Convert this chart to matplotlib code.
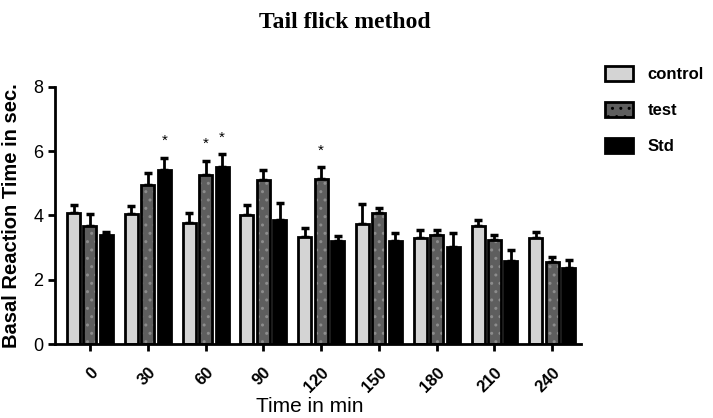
import numpy as np
import matplotlib
matplotlib.use("Agg")
import matplotlib.pyplot as plt
from matplotlib.patches import Patch

times = ["0", "30", "60", "90", "120", "150", "180", "210", "240"]
control = [4.07, 4.05, 3.76, 4.03, 3.34, 3.74, 3.30, 3.66, 3.30]
control_err = [0.27, 0.26, 0.33, 0.30, 0.26, 0.62, 0.25, 0.21, 0.20]
test = [3.66, 4.94, 5.25, 5.11, 5.14, 4.07, 3.38, 3.25, 2.56]
test_err = [0.39, 0.38, 0.45, 0.32, 0.36, 0.17, 0.16, 0.15, 0.16]
std = [3.38, 5.41, 5.50, 3.87, 3.20, 3.22, 3.01, 2.57, 2.36]
std_err = [0.12, 0.39, 0.40, 0.53, 0.17, 0.24, 0.45, 0.36, 0.24]
# (group index, series index) with significance star
stars = [(1, 2), (2, 1), (2, 2), (4, 1)]

plt.rcParams["font.family"] = ["Liberation Sans", "DejaVu Sans"]
plt.rcParams["hatch.linewidth"] = 1.0

fig = plt.figure(figsize=(7.13, 4.18), dpi=100)
ax = fig.add_axes([0.0771, 0.177, 0.738, 0.615])

x = np.arange(len(times))
step = 0.285
width = 0.225
series = [
    ("control", control, control_err, "#d4d4d4"),
    ("test", test, test_err, "#5e5e5e"),
    ("Std", std, std_err, "#000000"),
]
for i, (name, vals, errs, col) in enumerate(series):
    xs = x + (i - 1) * step
    ax.errorbar(xs, vals, yerr=[np.zeros(len(vals)), errs], fmt="none",
                ecolor="black", elinewidth=2, capsize=3, capthick=2.5, zorder=1)
    if name == "test":
        ax.bar(xs, vals, width, color=col, hatch="..", edgecolor="#8c8c8c",
               linewidth=0, zorder=2)
        ax.bar(xs, vals, width, fill=False, edgecolor="black", linewidth=2, zorder=3)
    else:
        ax.bar(xs, vals, width, color=col, edgecolor="black", linewidth=2, zorder=2)

allv = [control, test, std]
alle = [control_err, test_err, std_err]
for g, s in stars:
    ax.text(x[g] + (s - 1) * step, allv[s][g] + alle[s][g] + 0.3, "*",
            ha="center", va="bottom", fontsize=11)

ax.set_xlim(-0.606, 8.5)
ax.set_ylim(0, 8)
ax.set_yticks([0, 2, 4, 6, 8])
ax.set_xticks(x)
ax.set_xticklabels(times, rotation=45, ha="right", rotation_mode="anchor",
                   fontsize=12, fontweight="bold")
for lab in ax.get_yticklabels():
    lab.set_fontsize(13)
ax.spines["top"].set_visible(False)
ax.spines["right"].set_visible(False)
ax.spines["left"].set_linewidth(2)
ax.spines["bottom"].set_linewidth(2)
ax.tick_params(axis="both", width=2, length=5, direction="out")
ax.tick_params(axis="x", pad=10)

ax.set_ylabel("Basal Reaction Time in sec.", fontsize=14.5, fontweight="bold")
ax.yaxis.set_label_coords(-0.0646, 0.5)
ax.set_xlabel("Time in min", fontsize=15, va="top")
ax.xaxis.set_label_coords(0.485, -0.208)

fig.text(0.484, 0.946, "Tail flick method", ha="center", va="center",
         fontsize=17, fontweight="bold", family="Liberation Serif")

handles = [
    Patch(facecolor="#d4d4d4", edgecolor="black", linewidth=2),
    Patch(facecolor="#5e5e5e", edgecolor="black", linewidth=2, hatch=".."),
    Patch(facecolor="black", edgecolor="black", linewidth=2),
]
fig.legend(handles, ["control", "test", "Std"], loc="upper left",
           bbox_to_anchor=(0.828, 0.877), frameon=False,
           prop={"size": 12, "weight": "bold"},
           handlelength=1.65, handleheight=0.95, handletextpad=0.9,
           labelspacing=1.2)

fig.savefig("out.png", dpi=100)
